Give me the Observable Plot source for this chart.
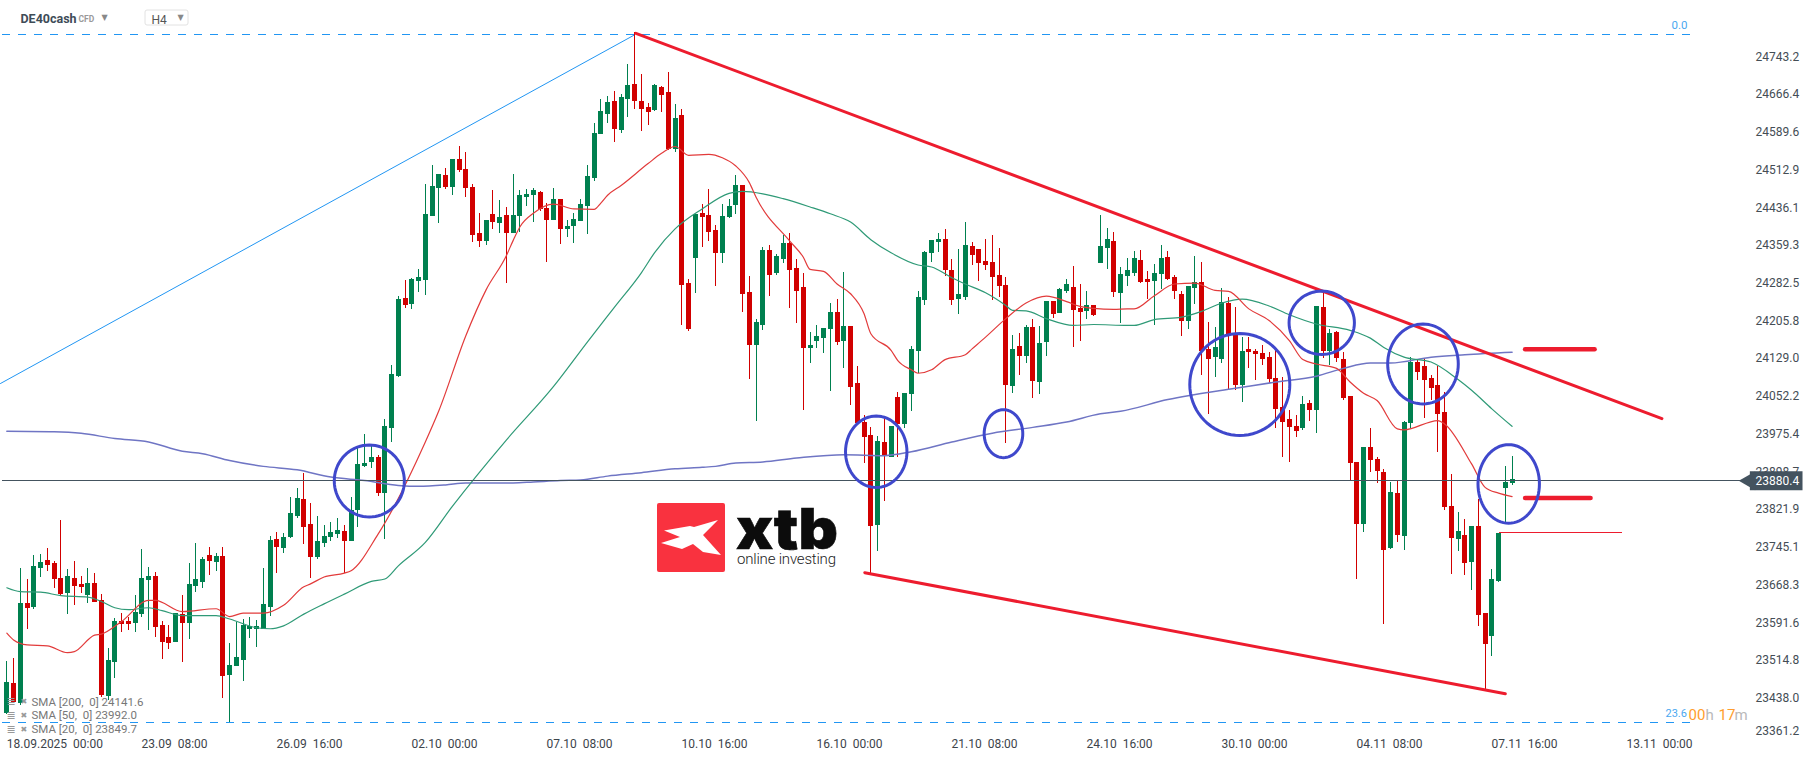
<!DOCTYPE html>
<html>
<head>
<meta charset="utf-8">
<script src="https://cdn.jsdelivr.net/npm/d3@7"></script>
<script src="https://cdn.jsdelivr.net/npm/@observablehq/plot@0.6"></script>
<style>
html,body{margin:0;padding:0;background:#fff;overflow:hidden}
#wrap{position:relative;width:1815px;height:761px}
#logo{position:absolute;left:0;top:0;pointer-events:none}
</style>
</head>
<body>
<div id="wrap"><div id="chart"></div>
<svg id="logo" width="1815" height="761">
  <rect x="657" y="503" width="68" height="69" rx="2" fill="#f9323f"/>
  <polygon points="664,530.5 690,526 694,527 718,520 703,535 721,555 703,552 693,544 682,549 661,543 680,537" fill="#fff"/>
  <text x="736" y="548.5" font-family="Inter, Roboto" font-weight="900" font-size="56" fill="#0c0c0c" stroke="#0c0c0c" stroke-width="0.6" textLength="102" lengthAdjust="spacingAndGlyphs">xtb</text>
  <text x="737" y="564" font-family="Roboto" font-weight="300" font-size="15" fill="#222" textLength="99">online investing</text>
</svg>
</div>
<script>
const opens = [
23404,23465,23423,23629,23620,23700,23717,23711,23680,23649,
23680,23668,23645,23670,23635,23438,23508,23592,23592,23588,
23606,23676,23684,23583,23559,23549,23606,23588,23663,23672,
23727,23713,23725,23481,23499,23512,23575,23575,23575,23620,
23760,23741,23764,23807,23842,23791,23723,23752,23764,23770,
23776,23756,23819,23910,23918,23928,23854,23988,24094,24254,
24242,24289,24291,24422,24480,24507,24482,24539,24519,24482,
24388,24371,24427,24408,24425,24388,24422,24461,24466,24472,
24439,24414,24457,24396,24402,24412,24443,24500,24591,24632,
24658,24599,24662,24693,24658,24646,24640,24687,24677,24560,
24630,24285,24336,24429,24425,24394,24347,24420,24445,24486,
24267,24158,24199,24353,24306,24334,24367,24316,24277,24152,
24166,24172,24191,24226,24166,24197,24080,24000,23973,23789,
23959,23928,24051,23996,24057,24146,24250,24347,24369,24375,
24312,24252,24256,24361,24355,24330,24328,24301,24281,24074,
24156,24135,24195,24082,24164,24248,24224,24269,24277,24234,
24228,24240,24326,24357,24371,24265,24299,24306,24332,24293,
24289,24304,24338,24297,24262,24207,24275,24287,24150,24133,
24129,24244,24180,24076,24150,24146,24141,24133,24090,24031,
24006,23992,23988,24039,24025,24236,24146,24185,24129,24053,
23918,23791,23949,23924,23897,23742,23854,23766,23998,24123,
24115,24090,24076,24020,23828,23760,23768,23713,23787,23608,
23561,23674,23865,23875];
const closes = [
23467,23426,23629,23619,23704,23713,23707,23678,23647,23684,
23663,23661,23670,23631,23440,23512,23592,23586,23586,23610,
23680,23684,23579,23549,23547,23608,23588,23668,23678,23719,
23715,23725,23479,23501,23518,23583,23581,23581,23627,23758,
23743,23764,23813,23844,23784,23723,23756,23766,23774,23778,
23756,23819,23914,23916,23928,23854,23992,24098,24252,24240,
24293,24297,24427,24484,24509,24482,24539,24517,24480,24383,
24371,24414,24410,24420,24388,24425,24466,24468,24476,24437,
24414,24457,24396,24402,24416,24447,24504,24593,24638,24656,
24601,24667,24691,24658,24642,24636,24691,24671,24560,24623,
24281,24191,24427,24420,24390,24347,24422,24443,24486,24263,
24158,24205,24353,24301,24340,24367,24312,24269,24152,24158,
24176,24193,24226,24164,24197,24072,23998,23969,23787,23961,
23930,23992,23996,24059,24150,24256,24349,24373,24375,24312,
24250,24263,24363,24342,24326,24322,24297,24279,24076,24150,
24135,24195,24084,24162,24248,24222,24273,24283,24230,24226,
24240,24219,24361,24375,24267,24304,24312,24336,24287,24287,
24306,24336,24293,24269,24207,24279,24287,24146,24129,24154,
24246,24180,24076,24146,24144,24139,24129,24088,24027,24000,
23990,23982,24037,24025,24238,24146,24183,24131,24049,23916,
23791,23949,23922,23899,23737,23856,23768,24000,24123,24103,
24086,24070,24016,23826,23762,23776,23711,23787,23604,23545,
23678,23772,23877,23883];
const highs = [
23510,23516,23700,23678,23727,23729,23741,23714,23799,23698,
23714,23684,23700,23690,23647,23536,23598,23608,23600,23645,
23739,23702,23692,23592,23583,23608,23645,23711,23752,23723,
23743,23731,23743,23547,23590,23596,23600,23594,23700,23766,
23774,23772,23846,23864,23895,23834,23807,23789,23795,23803,
23789,23846,23947,23975,23955,23932,24006,24117,24258,24291,
24295,24314,24488,24527,24509,24521,24539,24566,24554,24488,
24429,24414,24476,24455,24441,24509,24476,24478,24480,24474,
24449,24480,24457,24414,24429,24457,24527,24613,24662,24669,
24679,24673,24734,24800,24714,24654,24693,24689,24718,24652,
24642,24293,24427,24447,24478,24404,24447,24457,24507,24486,
24299,24211,24359,24363,24344,24383,24388,24334,24306,24184,
24199,24193,24244,24252,24308,24197,24115,24014,23990,23971,
24006,23992,24061,24059,24156,24269,24351,24373,24388,24396,
24334,24355,24410,24369,24355,24375,24384,24357,24297,24178,
24182,24199,24211,24197,24248,24248,24275,24293,24320,24283,
24269,24240,24424,24398,24390,24318,24336,24351,24353,24310,
24324,24363,24351,24301,24269,24279,24340,24328,24205,24195,
24275,24256,24236,24174,24174,24150,24158,24144,24148,24092,
24025,24014,24053,24045,24238,24265,24191,24187,24144,24053,
23918,23949,23988,23928,23904,23877,23879,24002,24133,24127,
24129,24096,24115,24061,23893,23815,23801,23787,23842,23608,
23698,23772,23910,23930];
const lows = [
23402,23423,23419,23575,23616,23683,23695,23659,23645,23606,
23624,23650,23629,23631,23435,23430,23475,23569,23573,23569,
23600,23573,23559,23514,23534,23549,23508,23555,23651,23659,
23686,23694,23434,23384,23499,23469,23557,23538,23575,23602,
23690,23731,23762,23803,23750,23680,23719,23743,23756,23762,
23690,23756,23784,23908,23906,23848,23760,23959,24092,24234,
24232,24267,24260,24422,24408,24478,24466,24513,24461,24369,
24359,24363,24396,24388,24285,24388,24390,24443,24410,24433,
24328,24414,24365,24379,24367,24412,24386,24494,24591,24613,
24574,24593,24625,24642,24597,24609,24638,24636,24558,24554,
24199,24187,24265,24359,24371,24279,24326,24418,24427,24226,
24088,24002,24189,24258,24301,24326,24234,24203,24025,24121,
24152,24141,24064,24158,24111,24035,23998,23916,23690,23735,
23838,23928,23928,23988,24023,24100,24240,24328,24349,24299,
24240,24221,24250,24322,24289,24312,24250,24256,23957,24059,
24096,24121,24049,24057,24135,24213,24224,24265,24154,24166,
24211,24217,24326,24314,24256,24203,24279,24299,24285,24252,
24199,24273,24291,24252,24176,24191,24242,24096,24016,24092,
24121,24066,24066,24041,24111,24086,24117,24080,23988,23928,
23918,23969,23984,24002,23977,24131,24117,24123,24045,23881,
23678,23774,23897,23875,23586,23739,23754,23737,23988,24086,
24008,24045,23938,23819,23688,23735,23686,23655,23582,23450,
23520,23672,23795,23871];

const sma20Bars = [1,2,4,7,10,11,14,15,18,22,23,27,32,34,36,39,42,45,46,48,51,52,56,63,65,69,72,75,76,77,79,82,85,88,89,90,92,96,98,100,102,105,107,109,111,112,117,119,120,122,124,126,128,129,132,133,135,136,138,140,143,144,146,149,152,155,158,160,162,165,167,168,171,174,177,180,182,185,188,191,193,195,198,200,202,204,207,208,213,214,218,220,222,224];
const sma20Values = [23568,23554,23544,23542,23528,23530,23564,23566,23592,23635,23635,23612,23618,23602,23609,23609,23625,23663,23669,23683,23691,23696,23771,23960,24024,24178,24272,24342,24373,24401,24429,24448,24438,24437,24450,24466,24486,24531,24552,24566,24548,24550,24543,24526,24492,24462,24372,24339,24314,24310,24284,24264,24223,24182,24148,24127,24108,24101,24108,24129,24139,24151,24175,24213,24245,24259,24248,24238,24234,24232,24233,24233,24260,24284,24286,24271,24269,24233,24209,24168,24129,24120,24111,24083,24060,24045,23987,23985,24004,23997,23915,23867,23855,23848];

const sma50Bars = [1,3,6,9,13,15,17,19,22,24,27,32,34,38,40,42,45,48,51,55,57,59,63,67,75,82,87,91,95,97,100,104,108,110,113,116,120,123,126,129,132,136,138,141,143,146,149,150,152,155,159,162,167,168,171,175,178,181,184,188,191,195,200,203,205,208,212,216,218,221,224];
const sma50Values = [23661,23653,23652,23645,23642,23633,23620,23616,23620,23614,23604,23604,23597,23579,23577,23583,23607,23628,23648,23674,23679,23706,23754,23828,23964,24074,24165,24236,24307,24349,24397,24438,24470,24474,24469,24459,24442,24428,24411,24375,24348,24323,24319,24297,24284,24266,24240,24230,24229,24213,24199,24201,24199,24199,24211,24216,24228,24245,24253,24239,24221,24202,24189,24173,24154,24134,24124,24088,24066,24028,23992];

const sma200Bars = [1,8,12,17,22,27,30,34,39,44,49,54,59,62,66,69,76,79,83,86,90,95,100,104,106,109,113,118,125,131,135,141,147,153,158,163,166,173,176,183,189,195,199,203,206,212,217,224];
const sma200Values = [23982,23981,23978,23967,23960,23941,23936,23922,23910,23903,23888,23881,23871,23869,23872,23876,23876,23878,23881,23882,23890,23897,23905,23908,23910,23917,23919,23927,23934,23932,23940,23960,23978,23990,24001,24018,24023,24047,24055,24070,24083,24095,24111,24122,24122,24134,24139,24144];

const priceTicks = [24743.2,24666.4,24589.6,24512.9,24436.1,24359.3,24282.5,24205.8,24129.0,24052.2,23975.4,23898.7,23821.9,23745.1,23668.3,23591.6,23514.8,23438.0];
const lastPriceTick = 23361.2;
const timeTickBars = [26,46,66,86,106,126,146,166,186,206,226,246];
const timeTickLabels = ["23.09  08:00","26.09  16:00","02.10  00:00","07.10  08:00","10.10  16:00","16.10  00:00","21.10  08:00","24.10  16:00","30.10  00:00","04.11  08:00","07.11  16:00","13.11  00:00"];
const firstTimeLabel = "18.09.2025  00:00";

const lastPrice = 23880.4;
// the price readings above were taken with a slightly wide scale; this trims them to the axis
const trim = p => lastPrice + (p - lastPrice) * 0.9922;
const fibHigh = trim(24795), fibLow = trim(23384);
const fibStart = 0.36, fibEnd = 250.4;
const peakBar = 94;

const circleBars =   [54.7,129.8,148.65,183.66,195.8,210.8,223.5];
const circlePrices = [23880,23940,23977,24078,24204.5,24120,23874];
const circleRadiusBars =   [5.19,4.55,2.86,7.41,4.84,5.23,4.55];
const circleRadiusPrices = [73.8,73.2,49.2,104.6,65,82,80.6];

const legendRows = ["SMA [200,  0] 24141.6","SMA [50,  0] 23992.0","SMA [20,  0] 23849.7"];

const UP = "#00804f", DOWN = "#d10000", RED = "#ed1c2e", FIB = "#2196f3", CIRCLE = "#3f48cc", PRICE = "#44535f";
const FONT = "Roboto, 'Liberation Sans', sans-serif";

const candles = opens.map((o,i)=>({bar:i+1,open:trim(o),close:trim(closes[i]),high:trim(highs[i]),low:trim(lows[i]),color:closes[i]>=o?UP:DOWN}));
const series = (bars,vals)=>bars.map((b,i)=>({bar:b,price:trim(vals[i])}));
const ellipses = circleBars.flatMap((c,k)=>d3.range(0,365,5).map(a=>({k,
  bar:c+circleRadiusBars[k]*Math.cos(a*Math.PI/180),
  price:trim(circlePrices[k])+0.9922*circleRadiusPrices[k]*Math.sin(a*Math.PI/180)})));

const label = (t,dx,dy,fontSize,fill,extra={}) => Plot.text([t],{text:d=>d,frameAnchor:"top-left",lineAnchor:"middle",textAnchor:"start",dx,dy,fontSize,fill,...extra});
const seg = (b1,p1,b2,p2,w) => Plot.line([{bar:b1,price:trim(p1)},{bar:b2,price:trim(p2)}],{x:"bar",y:"price",stroke:RED,strokeWidth:w});

const chart = Plot.plot({
  width:1815, height:761,
  marginTop:0, marginBottom:0, marginLeft:0, marginRight:0,
  style:{fontFamily:FONT, background:"#fff", overflow:"visible"},
  x:{type:"linear", domain:[0.062,268.95], range:[0,1815], axis:null},
  y:{type:"linear", domain:[23309.2,24857.8], range:[761,0], axis:null},
  marks:[
    Plot.ruleY([fibHigh,fibLow],{x1:fibStart,x2:fibEnd,stroke:FIB,strokeWidth:1,strokeDasharray:"8,8",shapeRendering:"crispEdges"}),
    Plot.line([{bar:0.06,price:trim(24080)},{bar:peakBar,price:fibHigh}],{x:"bar",y:"price",stroke:FIB,strokeWidth:1}),
    Plot.ruleX(candles,{x:"bar",y1:"low",y2:"high",stroke:"color",strokeWidth:1,shapeRendering:"crispEdges"}),
    Plot.ruleX(candles,{x:"bar",y1:"open",y2:"close",stroke:"color",strokeWidth:5,shapeRendering:"crispEdges"}),
    Plot.line(series(sma200Bars,sma200Values),{x:"bar",y:"price",stroke:"#6f75c4",strokeWidth:1.5,curve:"monotone-x"}),
    Plot.line(series(sma50Bars,sma50Values),{x:"bar",y:"price",stroke:"#2f9a77",strokeWidth:1.2,curve:"monotone-x"}),
    Plot.line(series(sma20Bars,sma20Values),{x:"bar",y:"price",stroke:"#e23b3b",strokeWidth:1.2,curve:"monotone-x"}),
    Plot.ruleY([lastPrice],{x1:0.36,x2:258.3,stroke:PRICE,strokeWidth:1,shapeRendering:"crispEdges"}),
    seg(94.2,24798,246.2,24008,3),
    seg(128.1,23692,223,23443.5,3),
    Plot.ruleY([trim(24150)],{x1:226,x2:236.3,stroke:RED,strokeWidth:4.5,strokeLinecap:"round"}),
    Plot.ruleY([trim(23845)],{x1:226,x2:235.7,stroke:RED,strokeWidth:4.5,strokeLinecap:"round"}),
    Plot.ruleY([trim(23774)],{x1:222.1,x2:240.3,stroke:RED,strokeWidth:1,shapeRendering:"crispEdges"}),
    Plot.line(ellipses,{x:"bar",y:"price",z:"k",stroke:CIRCLE,strokeWidth:3}),
    Plot.text(priceTicks,{y:d=>d,text:d=>d.toFixed(1),frameAnchor:"left",dx:1755,textAnchor:"start",fontSize:12,fill:"#444d55"}),
    Plot.text([lastPriceTick],{y:d=>d,text:d=>d.toFixed(1),frameAnchor:"left",dx:1755,dy:-5,textAnchor:"start",fontSize:12,fill:"#444d55"}),
    Plot.text(timeTickBars,{x:d=>d,text:(d,i)=>timeTickLabels[i],frameAnchor:"bottom",lineAnchor:"middle",dy:-17,dx:-1,fontSize:12,fill:"#3c444b"}),
    Plot.text([firstTimeLabel],{x:()=>1,text:d=>d,frameAnchor:"bottom",lineAnchor:"middle",dy:-17,textAnchor:"start",fontSize:12,fill:"#3c444b"}),
    Plot.ruleY([lastPrice],{x1:259.3,x2:267.1,stroke:PRICE,strokeWidth:19}),
    Plot.dot([lastPrice],{x:()=>259.2,y:d=>d,symbol:"triangle",r:7,rotate:-90,fill:PRICE,stroke:"none"}),
    Plot.text([lastPrice],{y:d=>d,text:d=>d.toFixed(1),frameAnchor:"left",dx:1755,textAnchor:"start",fontSize:12,fill:"#fff"}),
    label("0.0",1671,25,11.5,"#4aa8f0"),
    label("23.6",1665,713,11,"#4aa8f0"),
    label("00",1688,715,15,"#ff9d2e"),
    label("h",1705,715,15,"#b9b9b9"),
    label("17",1718,715,15,"#ff9d2e"),
    label("m",1734,715,15,"#b9b9b9"),
    label("DE40cash",20,18,12.5,"#3e4c57",{fontWeight:700}),
    label("CFD",78,19,8.5,"#9a9a9a",{fontWeight:700}),
    label("▼",101,17,8,"#888",{fontFamily:"DejaVu Sans"}),
    label("H4",151,19.5,12,"#555"),
    label("▼",177,17,8,"#888",{fontFamily:"DejaVu Sans"}),
    ...legendRows.flatMap((t,i)=>[
      label(t,31,701.5+i*13.8,11.5,"#777"),
      label("≣",6,701+i*13.8,11,"#999",{fontFamily:"DejaVu Sans"}),
      label("✖",20,701+i*13.8,8,"#999",{fontFamily:"DejaVu Sans"})
    ])
  ]
});
d3.select(chart).append("rect").attr("x",145).attr("y",10).attr("width",43).attr("height",15).attr("rx",2).attr("fill","none").attr("stroke","#e2e2e2");
document.getElementById("chart").appendChild(chart);
</script>
</body>
</html>
